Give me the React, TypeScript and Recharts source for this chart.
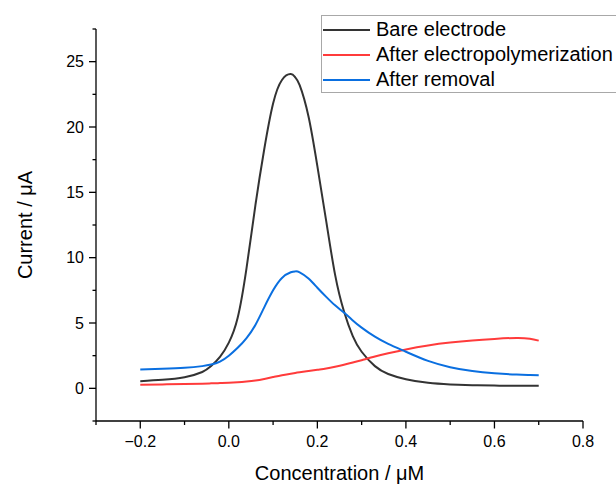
import React from "react";
import { LineChart, Line, XAxis, YAxis, Legend } from "recharts";

const concentration = [
  -0.2, -0.15, -0.1, -0.06, -0.04, -0.02, 0, 0.02, 0.04, 0.06, 0.08, 0.1, 0.12, 0.14, 0.15, 0.16, 0.18,
  0.2, 0.22, 0.24, 0.26, 0.28, 0.3, 0.33, 0.36, 0.4, 0.45, 0.5, 0.55, 0.6, 0.65, 0.68, 0.7,
];
const bareElectrode = [
  0.55, 0.65, 0.85, 1.25, 1.7, 2.4, 3.5, 5.4, 9.2, 14.0, 18.3, 21.8, 23.6, 24.05, 23.8, 23.2, 20.8,
  17.0, 12.8, 8.7, 5.9, 4.0, 2.8, 1.7, 1.1, 0.7, 0.42, 0.3, 0.24, 0.21, 0.2, 0.2, 0.2,
];
const afterElectropolymerization = [
  0.28, 0.3, 0.33, 0.36, 0.38, 0.4, 0.42, 0.46, 0.52, 0.6, 0.72, 0.86, 1.0, 1.12, 1.18, 1.23, 1.32,
  1.42, 1.52, 1.65, 1.8, 1.97, 2.15, 2.43, 2.68, 2.98, 3.28, 3.5, 3.66, 3.78, 3.86, 3.8, 3.65,
];
const afterRemoval = [
  1.45, 1.5, 1.57, 1.7, 1.82, 2.05, 2.5, 3.1, 3.85, 4.85, 6.2, 7.5, 8.45, 8.88, 8.95, 8.88, 8.4,
  7.7, 7.0, 6.35, 5.8, 5.2, 4.65, 3.95, 3.4, 2.8, 2.1, 1.62, 1.32, 1.15, 1.05, 1.02, 1.0,
];

const xTicks = [-0.3, -0.2, -0.1, 0, 0.1, 0.2, 0.3, 0.4, 0.5, 0.6, 0.7, 0.8];
const xLabeled = [-0.2, 0, 0.2, 0.4, 0.6, 0.8];
const yTicks = [-2.5, 0, 2.5, 5, 7.5, 10, 12.5, 15, 17.5, 20, 22.5, 25, 27.5];
const yLabeled = [0, 5, 10, 15, 20, 25];

const series = [
  { key: "bare", name: "Bare electrode", color: "#333333" },
  { key: "poly", name: "After electropolymerization", color: "#ff3b3b" },
  { key: "removal", name: "After removal", color: "#0a6fe0" },
];

const data = concentration.map((x, i) => ({
  x,
  bare: bareElectrode[i],
  poly: afterElectropolymerization[i],
  removal: afterRemoval[i],
}));

const FONT = '"Liberation Sans", Arial, Helvetica, sans-serif';
const isIn = (arr: number[], v: number) => arr.some((a) => Math.abs(a - v) < 1e-9);
const fmt = (v: number) => v.toFixed(1).replace("-", "\u2212");

const XTick = (props: any) => {
  const { x, y, payload } = props;
  const v = payload.value;
  const major = isIn(xLabeled, v);
  return (
    <g>
      <line x1={x} x2={x} y1={y} y2={y + (major ? 7.5 : 4)} stroke="#000" strokeWidth={1.3} />
      {major && (
        <text x={x} y={y + 26} textAnchor="middle" fontSize={16} fontFamily={FONT} fill="#000">
          {fmt(v)}
        </text>
      )}
    </g>
  );
};

const YTick = (props: any) => {
  const { x, y, payload } = props;
  const v = payload.value;
  const major = isIn(yLabeled, v);
  return (
    <g>
      <line x1={x} x2={x - (major ? 7 : 3.5)} y1={y} y2={y} stroke="#000" strokeWidth={1.3} />
      {major && (
        <text x={x - 12} y={y + 5.8} textAnchor="end" fontSize={16} fontFamily={FONT} fill="#000">
          {String(v)}
        </text>
      )}
    </g>
  );
};

const LegendBox = () => (
  <div
    style={{
      boxSizing: "border-box",
      height: 78,
      width: 320,
      border: "1px solid #a8a8a8",
      paddingTop: 1,
      background: "#fff",
      fontFamily: FONT,
      fontSize: 20,
      color: "#000",
    }}
  >
    {series.map((s) => (
      <div key={s.key} style={{ display: "flex", alignItems: "center", height: 25 }}>
        <svg width={47} height={4} style={{ marginLeft: 1, display: "block" }}>
          <line x1={0} x2={47} y1={2} y2={2} stroke={s.color} strokeWidth={2} />
        </svg>
        <span style={{ marginLeft: 6, whiteSpace: "nowrap", lineHeight: "23px" }}>{s.name}</span>
      </div>
    ))}
  </div>
);

export default function App() {
  return (
    <div
      style={{
        position: "absolute",
        left: 0,
        top: 0,
        width: 616,
        height: 484,
        overflow: "hidden",
        background: "#fff",
      }}
    >
      <LineChart width={616} height={484} data={data} margin={{ top: 29, right: 33, bottom: 0, left: 0 }}>
        <XAxis
          dataKey="x"
          type="number"
          domain={[-0.3, 0.8]}
          ticks={xTicks}
          interval={0}
          height={63}
          tickSize={0}
          tickMargin={0}
          tickLine={false}
          axisLine={{ stroke: "#000", strokeWidth: 1.3 }}
          tick={<XTick />}
          label={{
            value: "Concentration / \u03bcM",
            position: "insideBottom",
            offset: 4.5,
            style: { fontSize: 20, fontFamily: FONT, fill: "#000" },
          }}
        />
        <YAxis
          type="number"
          domain={[-2.5, 27.5]}
          ticks={yTicks}
          interval={0}
          width={96}
          tickSize={0}
          tickMargin={0}
          tickLine={false}
          axisLine={{ stroke: "#000", strokeWidth: 1.3 }}
          tick={<YTick />}
          label={{
            content: (p: any) => {
              const vb = p.viewBox || { x: 0, y: 29, width: 96, height: 392 };
              const cx = 32;
              const cy = vb.y + vb.height / 2;
              return (
                <text
                  x={cx}
                  y={cy}
                  textAnchor="middle"
                  transform={`rotate(-90, ${cx}, ${cy})`}
                  fontSize={20}
                  fontFamily={FONT}
                  fill="#000"
                >
                  Current / {"\u03bcA"}
                </text>
              );
            },
          }}
        />
        {series.map((s) => (
          <Line
            key={s.key}
            dataKey={s.key}
            name={s.name}
            type="natural"
            stroke={s.color}
            strokeWidth={2}
            dot={false}
            activeDot={false}
            isAnimationActive={false}
          />
        ))}
        <Legend
          layout="horizontal"
          verticalAlign="middle"
          align="center"
          content={<LegendBox />}
          wrapperStyle={{ left: 321, top: 15, width: 320, height: 78 }}
        />
      </LineChart>
    </div>
  );
}
